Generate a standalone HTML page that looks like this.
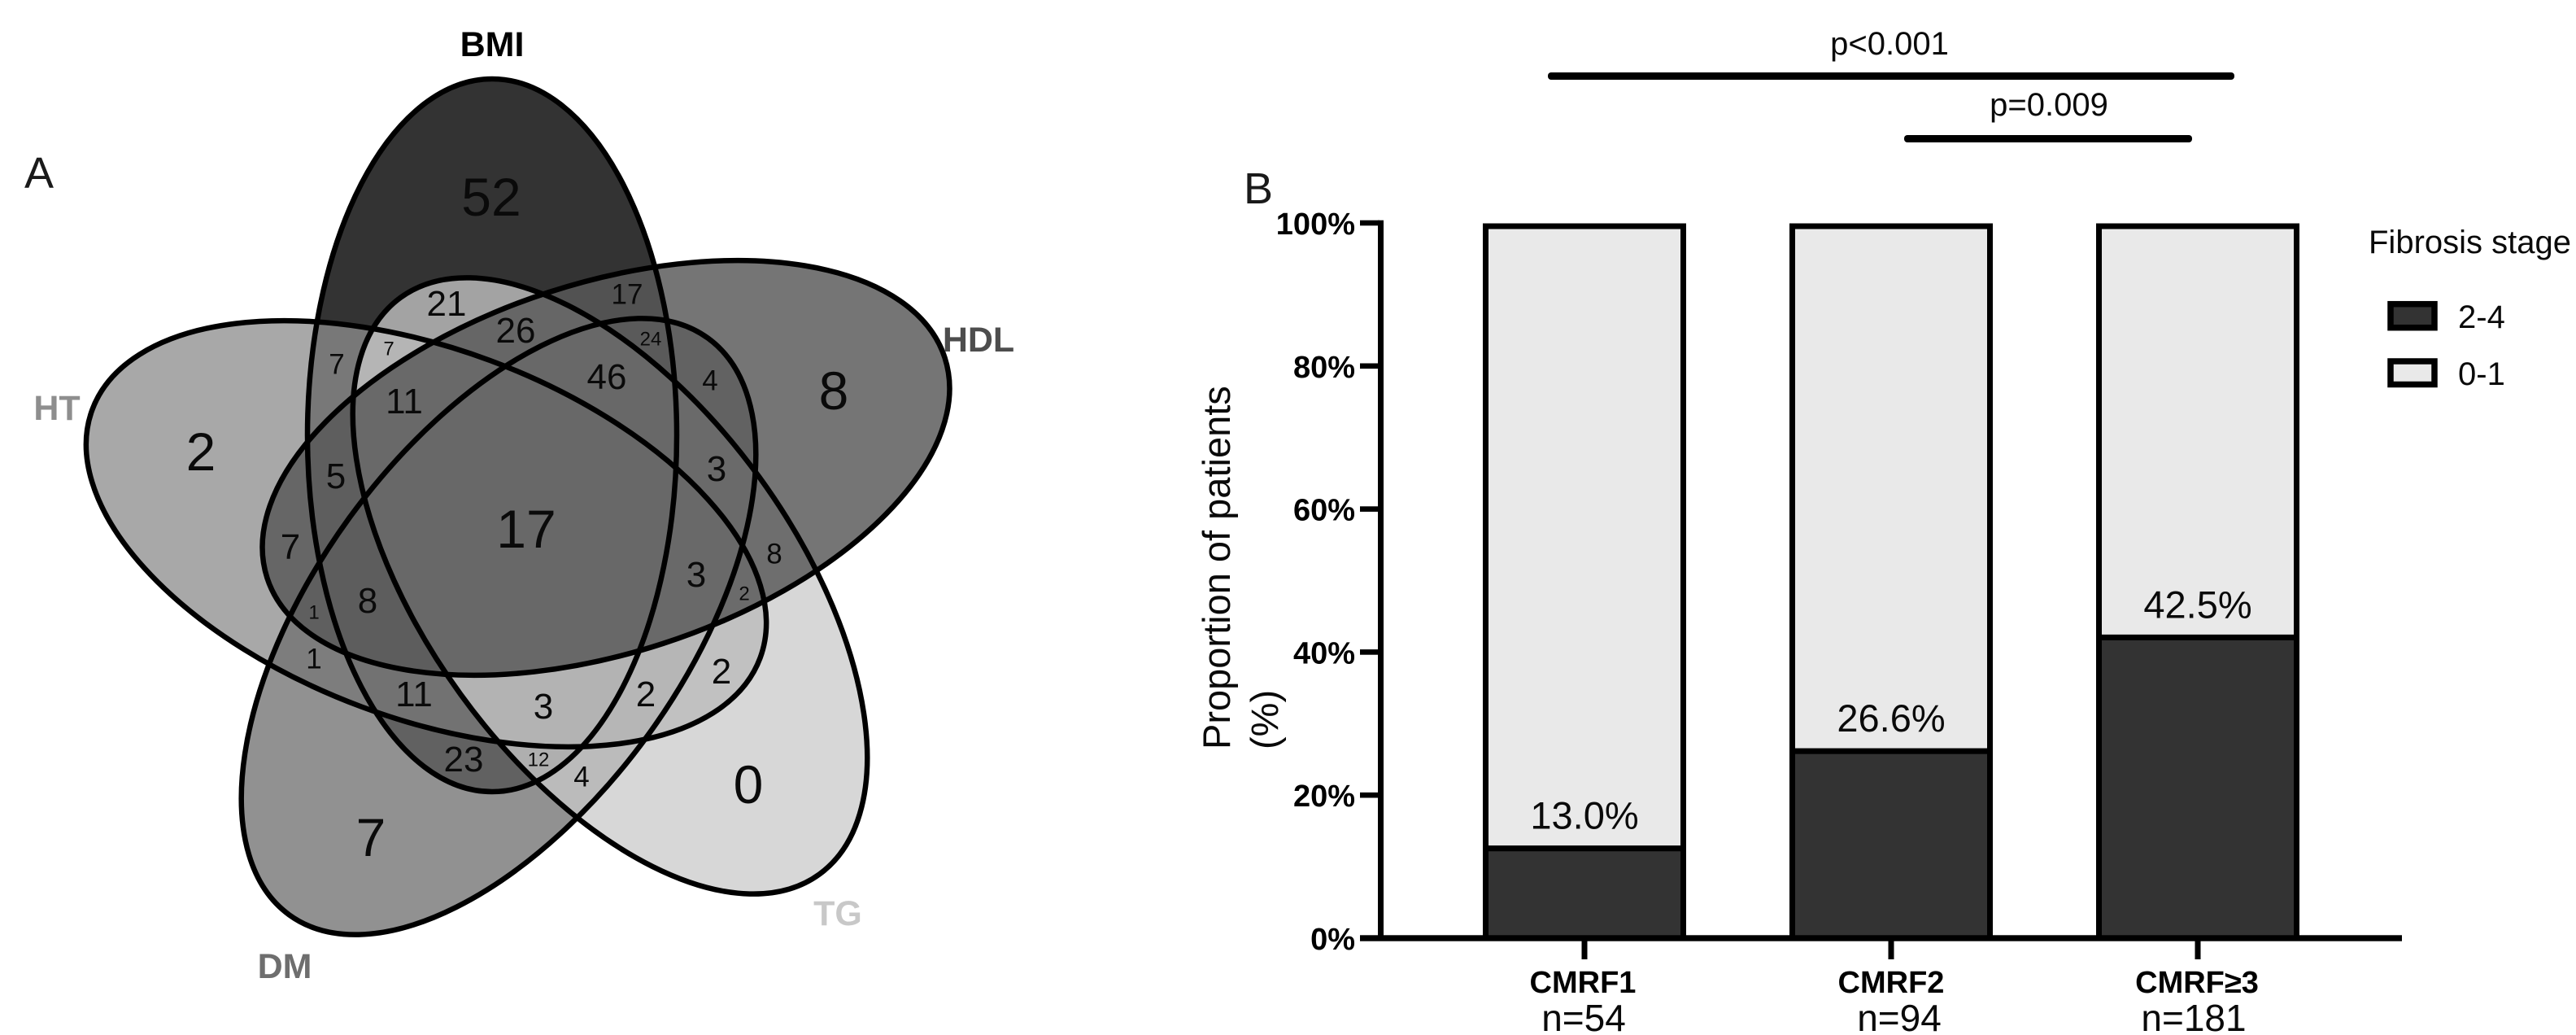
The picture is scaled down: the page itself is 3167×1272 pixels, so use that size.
<!DOCTYPE html>
<html lang="en">
<head>
<meta charset="utf-8">
<title>Venn diagram and fibrosis stage chart</title>
<style>
html,body{margin:0;padding:0;background:#fff;width:3167px;height:1272px;overflow:hidden}
svg{display:block;font-family:"Liberation Sans",Arial,sans-serif}
.n{fill:#0a0a0a;text-anchor:middle}
.xl{font-size:66px}.l{font-size:44px}.m{font-size:35px}.s{font-size:24px}
.set{font-size:43px;font-weight:700;text-anchor:middle}
.fillset{stroke:none}
.edge{fill:none;stroke:#000;stroke-width:6.5}
</style>
</head>
<body>
<svg id="figure" xmlns="http://www.w3.org/2000/svg" width="3167" height="1272" viewBox="0 0 3167 1272">
<rect x="0" y="0" width="3167" height="1272" fill="#fff"/>

<g>
  <text x="48" y="231" font-size="54" text-anchor="middle" fill="#1a1a1a">A</text>
  <g>
    <ellipse class="fillset" cx="605" cy="535" rx="227" ry="438" fill="#000" fill-opacity=".8"/>
    <ellipse class="fillset" cx="524" cy="656" rx="227" ry="438" transform="rotate(290.4 524 656)" fill="#8e8e8e" fill-opacity=".77"/>
    <ellipse class="fillset" cx="613" cy="770" rx="227" ry="438" transform="rotate(216 613 770)" fill="#707070" fill-opacity=".77"/>
    <ellipse class="fillset" cx="750" cy="720" rx="227" ry="438" transform="rotate(144 750 720)" fill="#cacaca" fill-opacity=".75"/>
    <ellipse class="fillset" cx="745" cy="575" rx="227" ry="438" transform="rotate(72 745 575)" fill="#595959" fill-opacity=".83"/>
  </g>
  <g>
    <ellipse class="edge" cx="605" cy="535" rx="227" ry="438"/>
    <ellipse class="edge" cx="524" cy="656" rx="227" ry="438" transform="rotate(290.4 524 656)"/>
    <ellipse class="edge" cx="613" cy="770" rx="227" ry="438" transform="rotate(216 613 770)"/>
    <ellipse class="edge" cx="750" cy="720" rx="227" ry="438" transform="rotate(144 750 720)"/>
    <ellipse class="edge" cx="745" cy="575" rx="227" ry="438" transform="rotate(72 745 575)"/>
  </g>
  <text class="set" x="605" y="69" fill="#000">BMI</text>
  <text class="set" x="70" y="516" fill="#8e8e8e">HT</text>
  <text class="set" x="1203" y="432" fill="#4d4d4d">HDL</text>
  <text class="set" x="350" y="1202" fill="#6e6e6e">DM</text>
  <text class="set" x="1030" y="1137" fill="#c8c8c8">TG</text>

  <g>
    <text class="n xl" x="604" y="241" dy=".36em">52</text>
    <text class="n xl" x="1025" y="479" dy=".36em">8</text>
    <text class="n xl" x="247" y="554" dy=".36em">2</text>
    <text class="n xl" x="647" y="649" dy=".36em">17</text>
    <text class="n xl" x="920" y="963" dy=".36em">0</text>
    <text class="n xl" x="456" y="1028" dy=".36em">7</text>
    <text class="n l" x="549" y="372" dy=".36em">21</text>
    <text class="n m" x="771" y="361" dy=".36em">17</text>
    <text class="n s" x="800" y="416" dy=".36em">24</text>
    <text class="n l" x="634" y="405" dy=".36em">26</text>
    <text class="n s" x="478" y="428" dy=".36em">7</text>
    <text class="n m" x="414" y="447" dy=".36em">7</text>
    <text class="n l" x="746" y="462" dy=".36em">46</text>
    <text class="n m" x="873" y="467" dy=".36em">4</text>
    <text class="n l" x="497" y="492" dy=".36em">11</text>
    <text class="n l" x="413" y="584" dy=".36em">5</text>
    <text class="n l" x="881" y="575" dy=".36em">3</text>
    <text class="n l" x="357" y="671" dy=".36em">7</text>
    <text class="n m" x="952" y="680" dy=".36em">8</text>
    <text class="n l" x="856" y="705" dy=".36em">3</text>
    <text class="n s" x="915" y="729" dy=".36em">2</text>
    <text class="n l" x="452" y="737" dy=".36em">8</text>
    <text class="n s" x="386" y="752" dy=".36em">1</text>
    <text class="n m" x="386" y="809" dy=".36em">1</text>
    <text class="n l" x="887" y="824" dy=".36em">2</text>
    <text class="n l" x="509" y="852" dy=".36em">11</text>
    <text class="n l" x="794" y="852" dy=".36em">2</text>
    <text class="n l" x="668" y="867" dy=".36em">3</text>
    <text class="n l" x="570" y="932" dy=".36em">23</text>
    <text class="n s" x="662" y="933" dy=".36em">12</text>
    <text class="n m" x="715" y="954" dy=".36em">4</text>
  </g>
</g>

<g id="bar-chart">
  <text x="1547" y="250" font-size="54" text-anchor="middle" fill="#1a1a1a">B</text>
  <g fill="#0a0a0a" font-size="47">
    <text transform="translate(1512 921) rotate(-90)">Proportion of patients</text>
    <text transform="translate(1571 921) rotate(-90)">(%)</text>
  </g>
  <g fill="#0a0a0a" font-size="40" text-anchor="middle">
    <text x="2323" y="67">p&lt;0.001</text>
    <rect x="1903" y="89" width="844" height="9" rx="4" fill="#000"/>
    <text x="2519" y="142">p=0.009</text>
    <rect x="2341" y="166" width="354" height="9" rx="4" fill="#000"/>
  </g>
  <g fill="#0a0a0a" font-size="40">
    <text x="2912" y="311">Fibrosis stage</text>
    <rect x="2939" y="373.7" width="54" height="29" fill="#333" stroke="#000" stroke-width="7.5"/>
    <text x="3022" y="403">2-4</text>
    <rect x="2939" y="444" width="54" height="28.5" fill="#e9e9e9" stroke="#000" stroke-width="7.5"/>
    <text x="3022" y="473">0-1</text>
  </g>
</g>
</svg>

<script>
const categories = ['CMRF1', 'CMRF2', 'CMRF\u22653'];
const sampleSizes = ['n=54', 'n=94', 'n=181'];
const fibrosisHigh = [13.0, 26.6, 42.5];
const yTickValues = [0, 20, 40, 60, 80, 100];

const SVGNS = 'http://www.w3.org/2000/svg';
const chart = document.getElementById('bar-chart');
const Y0 = 1153, PX_PER_PCT = 8.79, BAR_OFFSET = 4;
const X0 = 1948, STEP = 377, BAR_W = 243;
const CAT_SHIFT = [-2, 0, -1];
const N_SHIFT = [-1, 10, -5];

function yScale(v) { return Y0 - v * PX_PER_PCT; }
function barY(v) { return yScale(v) + BAR_OFFSET; }
function xScale(i) { return X0 + i * STEP; }

function make(tag, attrs, text) {
  const el = document.createElementNS(SVGNS, tag);
  for (const k in attrs) el.setAttribute(k, attrs[k]);
  if (text !== undefined) el.textContent = text;
  chart.appendChild(el);
  return el;
}

categories.forEach(function (cat, i) {
  const cx = xScale(i);
  const v = fibrosisHigh[i];
  const light = make('rect', {x: cx - BAR_W / 2, y: barY(100), width: BAR_W, height: barY(v) - barY(100), fill: '#e9e9e9', stroke: '#000', 'stroke-width': 7});
  
  
  const dark = make('rect', {x: cx - BAR_W / 2, y: barY(v), width: BAR_W, height: Y0 - barY(v), fill: '#333', stroke: '#000', 'stroke-width': 7});
  
  
  const val = make('text', {x: cx, y: barY(v) - 24, 'font-size': 47, 'text-anchor': 'middle', fill: '#0a0a0a'}, v.toFixed(1) + '%');
  
  
  const tick = make('rect', {x: cx - 3.5, y: 1153, width: 7, height: 26, fill: '#000'});
  
  
  const lab = make('text', {x: cx + CAT_SHIFT[i], y: 1220, 'font-size': 38, 'font-weight': 700, 'text-anchor': 'middle', fill: '#000'}, cat);
  
  
  const n = make('text', {x: cx + N_SHIFT[i], y: 1267, 'font-size': 46, 'text-anchor': 'middle', fill: '#0a0a0a'}, sampleSizes[i]);
  
  
});

const yAxis = make('rect', {x: 1694, y: yScale(100) - 3.3, width: 7, height: Y0 - yScale(100) + 3.3, fill: '#000'});


const xAxis = make('rect', {x: 1672, y: Y0 - 3.7, width: 1281, height: 7.4, fill: '#000'});



yTickValues.forEach(function (v) {
  const t = make('rect', {x: 1672, y: yScale(v) - 3.3, width: 24, height: 6.6, fill: '#000'});
  
  
  const l = make('text', {x: 1666, y: yScale(v) + 14, 'font-size': 38, 'font-weight': 700, 'text-anchor': 'end', fill: '#000'}, v + '%');
  
  
});
</script>
</body>
</html>
